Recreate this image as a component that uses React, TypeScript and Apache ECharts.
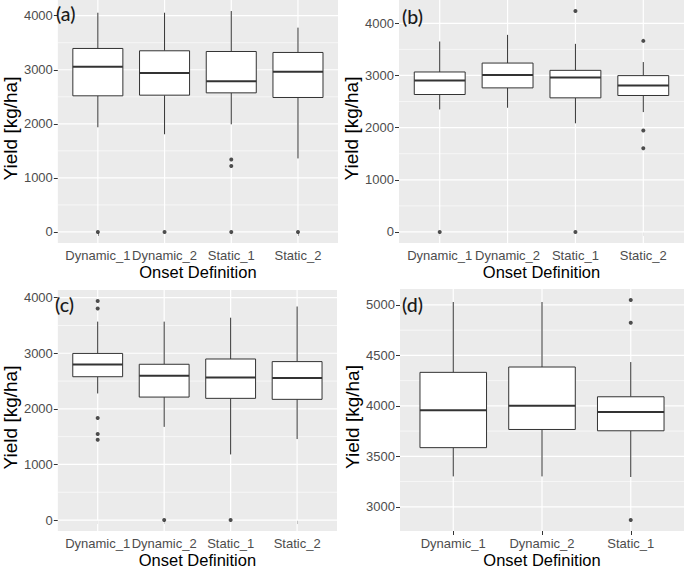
import React, { useEffect, useRef } from 'react';
import * as echarts from 'echarts';

// ---- Data ----
const categoriesABC = ['Dynamic_1', 'Dynamic_2', 'Static_1', 'Static_2'];
const categoriesD = ['Dynamic_1', 'Dynamic_2', 'Static_1'];

// [lower whisker, Q1, median, Q3, upper whisker]
const statsA = [
  [1936, 2518, 3057, 3394, 4055],
  [1807, 2530, 2940, 3351, 4055],
  [1991, 2573, 2787, 3338, 4086],
  [1360, 2487, 2965, 3320, 3779],
];
const outliersA = [[0], [0], [1341, 1219, 0], [0]];

const statsB = [
  [2349, 2635, 2902, 3067, 3651],
  [2381, 2762, 3010, 3238, 3778],
  [2083, 2571, 2959, 3098, 3606],
  [2298, 2616, 2806, 2997, 3257],
];
const outliersB = [[0], [], [4235, 0], [3663, 1943, 1606]];

const statsC = [
  [2277, 2578, 2796, 2997, 3569],
  [1676, 2212, 2596, 2802, 3569],
  [1180, 2189, 2566, 2897, 3640],
  [1457, 2171, 2555, 2850, 3841],
];
const outliersC = [[3941, 3805, 1835, 1546, 1445], [0], [0], []];

const statsD = [
  [3301, 3586, 3956, 4332, 5029],
  [3301, 3766, 4000, 4385, 5029],
  [3295, 3753, 3939, 4090, 4434],
];
const outliersD = [[], [], [5049, 4823, 2869]];

const majorTicksABC = [0, 1000, 2000, 3000, 4000];
const minorTicksABC = [500, 1500, 2500, 3500, 4500];
const majorTicksD = [3000, 3500, 4000, 4500, 5000];
const minorTicksD = [2750, 3250, 3750, 4250, 4750];

const panelLabels = ['(a)', '(b)', '(c)', '(d)'];
const xTitle = 'Onset Definition';
const yTitle = 'Yield [kg/ha]';

// ---- Layout / style ----
const FONT = '"Liberation Sans", Arial, sans-serif';
const gridRects = [
  { left: 53, top: 0, width: 285, height: 243 },
  { left: 399, top: 0, width: 285, height: 243 },
  { left: 53, top: 290, width: 284, height: 243 },
  { left: 400, top: 289, width: 284, height: 243 },
];
const yNameGaps = [33, 36, 33, 35];
const labelPos = [
  { left: 56, top: 3 },
  { left: 402, top: 6 },
  { left: 55, top: 294 },
  { left: 402, top: 294 },
];

function buildOption() {
  const panels = [
    { cats: categoriesABC, stats: statsA, outs: outliersA, major: majorTicksABC, minor: minorTicksABC },
    { cats: categoriesABC, stats: statsB, outs: outliersB, major: majorTicksABC, minor: minorTicksABC },
    { cats: categoriesABC, stats: statsC, outs: outliersC, major: majorTicksABC, minor: minorTicksABC },
    { cats: categoriesD, stats: statsD, outs: outliersD, major: majorTicksD, minor: minorTicksD },
  ];

  const grid: any[] = [];
  const xAxis: any[] = [];
  const yAxis: any[] = [];
  const series: any[] = [];
  const title: any[] = [];

  panels.forEach((p, i) => {
    const all: number[] = [];
    p.stats.forEach((s) => all.push(...s));
    p.outs.forEach((o) => all.push(...o));
    const lo = Math.min(...all);
    const hi = Math.max(...all);
    const pad = (hi - lo) * 0.05;
    const yMin = lo - pad;
    const yMax = hi + pad;
    const xMin = 0.4;
    const xMax = p.cats.length + 0.6;
    const pos = p.cats.map((_, k) => k + 1);

    grid.push({
      ...gridRects[i],
      show: true,
      backgroundColor: '#EBEBEB',
      borderWidth: 0,
      containLabel: false,
    });

    xAxis.push({
      type: 'value',
      gridIndex: i,
      min: xMin,
      max: xMax,
      axisLine: { show: false },
      axisTick: { show: true, length: 4, customValues: pos, lineStyle: { color: '#333333', width: 1 } },
      axisLabel: {
        customValues: pos,
        formatter: (v: number) => p.cats[Math.round(v) - 1] ?? '',
        color: '#4D4D4D',
        fontSize: 13,
        fontFamily: FONT,
        margin: 6,
      },
      splitLine: { show: false },
      name: xTitle,
      nameLocation: 'middle',
      nameGap: 20,
      nameTextStyle: { color: '#000000', fontSize: 16.5, fontFamily: FONT },
    });

    yAxis.push({
      type: 'value',
      gridIndex: i,
      min: yMin,
      max: yMax,
      position: 'left',
      axisLine: { show: false },
      axisTick: { show: true, length: 4, customValues: p.major, lineStyle: { color: '#333333', width: 1 } },
      axisLabel: {
        customValues: p.major,
        formatter: (v: number) => String(Math.round(v)),
        color: '#4D4D4D',
        fontSize: 13,
        fontFamily: FONT,
        margin: 5,
      },
      splitLine: { show: false },
      name: yTitle,
      nameLocation: 'middle',
      nameGap: yNameGaps[i],
      nameTextStyle: { color: '#000000', fontSize: 19, fontFamily: FONT, padding: [0, 14, 0, 0] },
    });

    // panel grid lines (major, minor, vertical), positioned through the axes' scales
    series.push({
      type: 'custom',
      xAxisIndex: i,
      yAxisIndex: i,
      data: [[pos[0], p.major[0]]],
      silent: true,
      z: 1,
      renderItem: (params: any, api: any) => {
        const cs = params.coordSys;
        const children: any[] = [];
        p.minor
          .filter((v) => v > yMin && v < yMax)
          .forEach((v) => {
            const yy = api.coord([pos[0], v])[1];
            children.push({
              type: 'line',
              shape: { x1: cs.x, y1: yy, x2: cs.x + cs.width, y2: yy },
              style: { stroke: '#FFFFFF', lineWidth: 0.6 },
            });
          });
        p.major
          .filter((v) => v > yMin && v < yMax)
          .forEach((v) => {
            const yy = api.coord([pos[0], v])[1];
            children.push({
              type: 'line',
              shape: { x1: cs.x, y1: yy, x2: cs.x + cs.width, y2: yy },
              style: { stroke: '#FFFFFF', lineWidth: 1.2 },
            });
          });
        pos.forEach((x) => {
          const xx = api.coord([x, p.major[0]])[0];
          children.push({
            type: 'line',
            shape: { x1: xx, y1: cs.y, x2: xx, y2: cs.y + cs.height },
            style: { stroke: '#FFFFFF', lineWidth: 1.2 },
          });
        });
        return { type: 'group', children };
      },
    });

    series.push({
      type: 'custom',
      xAxisIndex: i,
      yAxisIndex: i,
      data: p.stats.map((s, k) => [k + 1, ...s]),
      encode: { x: 0, y: [1, 5] },
      z: 3,
      renderItem: (params: any, api: any) => {
        const x = api.value(0);
        const pLo = api.coord([x, api.value(1)]);
        const pQ1 = api.coord([x, api.value(2)]);
        const pMed = api.coord([x, api.value(3)]);
        const pQ3 = api.coord([x, api.value(4)]);
        const pHi = api.coord([x, api.value(5)]);
        const w = api.size([0.75, 0], [x, api.value(3)])[0];
        const stroke = '#333333';
        return {
          type: 'group',
          children: [
            { type: 'line', shape: { x1: pHi[0], y1: pHi[1], x2: pQ3[0], y2: pQ3[1] }, style: { stroke, lineWidth: 1 } },
            { type: 'line', shape: { x1: pQ1[0], y1: pQ1[1], x2: pLo[0], y2: pLo[1] }, style: { stroke, lineWidth: 1 } },
            {
              type: 'rect',
              shape: { x: pQ3[0] - w / 2, y: pQ3[1], width: w, height: pQ1[1] - pQ3[1] },
              style: { fill: '#FFFFFF', stroke, lineWidth: 1 },
            },
            {
              type: 'line',
              shape: { x1: pMed[0] - w / 2, y1: pMed[1], x2: pMed[0] + w / 2, y2: pMed[1] },
              style: { stroke, lineWidth: 2 },
            },
          ],
        };
      },
    });

    series.push({
      type: 'scatter',
      xAxisIndex: i,
      yAxisIndex: i,
      data: p.outs.flatMap((arr, k) => arr.map((v) => [k + 1, v])),
      symbol: 'circle',
      symbolSize: 4,
      itemStyle: { color: '#222222' },
      z: 4,
    });

    title.push({
      text: panelLabels[i],
      left: labelPos[i].left,
      top: labelPos[i].top,
      padding: 0,
      textStyle: { fontFamily: 'Lato, "Noto Sans", sans-serif', fontSize: 19.5, fontWeight: 500, color: '#1A1A1A' },
    });
  });

  return { animation: false, backgroundColor: '#FFFFFF', title, grid, xAxis, yAxis, series };
}

export default function App() {
  const ref = useRef<HTMLDivElement>(null);
  useEffect(() => {
    if (!ref.current) return;
    const chart = echarts.init(ref.current, undefined, { renderer: 'svg' });
    chart.setOption(buildOption() as any);
    return () => chart.dispose();
  }, []);
  return (
    <div
      ref={ref}
      style={{ position: 'absolute', left: 0, top: 0, width: 685, height: 569, background: '#FFFFFF' }}
    />
  );
}
